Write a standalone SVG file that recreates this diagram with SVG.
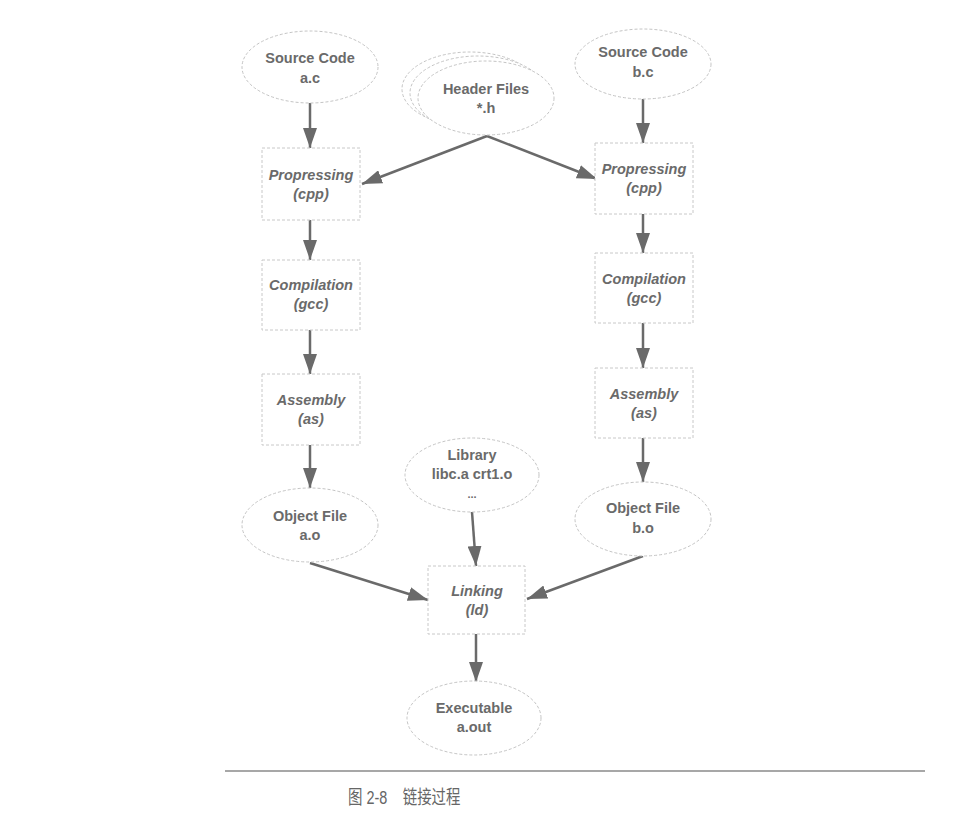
<svg xmlns="http://www.w3.org/2000/svg" width="956" height="827" viewBox="0 0 956 827">
<defs>
<marker id="ah" markerUnits="userSpaceOnUse" markerWidth="20" markerHeight="14" viewBox="0 0 20 14" refX="20" refY="7" orient="auto">
<path d="M0,0 L20,7 L0,14 Z" fill="#6a6a6a"/>
</marker>
</defs>
<style>
.el{fill:#fff;stroke:#c4c4c4;stroke-width:1;stroke-dasharray:3 2}
.bx{fill:#fff;stroke:#c8c8c8;stroke-width:1;stroke-dasharray:3 2}
.t{font-family:"Liberation Sans",Arial,sans-serif;font-size:14.5px;font-weight:bold;fill:#6a6a6a;text-anchor:middle}
.ti{font-style:italic}
.c{stroke:#6a6a6a;stroke-width:2.5;fill:none;marker-end:url(#ah)}
.cap{font-family:"Liberation Sans","Noto Sans CJK SC",sans-serif;font-size:19px;fill:#666}
</style>
<rect width="956" height="827" fill="#fff"/>
<g id="connectors">
<line class="c" x1="310" y1="103" x2="310" y2="148"/>
<line class="c" x1="310" y1="220" x2="310" y2="260"/>
<line class="c" x1="310" y1="330" x2="310" y2="374"/>
<line class="c" x1="310" y1="445" x2="310" y2="488"/>
<line class="c" x1="643" y1="98" x2="643" y2="143"/>
<line class="c" x1="643" y1="214" x2="643" y2="253"/>
<line class="c" x1="643" y1="323" x2="643" y2="368"/>
<line class="c" x1="643" y1="438" x2="643" y2="482"/>
<line class="c" x1="487" y1="136" x2="362" y2="184"/>
<line class="c" x1="487" y1="136" x2="597" y2="179"/>
<line class="c" x1="472" y1="512" x2="476" y2="566"/>
<line class="c" x1="310" y1="563" x2="428" y2="600"/>
<line class="c" x1="643" y1="556" x2="527" y2="599"/>
<line class="c" x1="476" y1="634" x2="476" y2="682"/>
</g>
<g id="src-a">
<ellipse class="el" cx="310" cy="67" rx="68" ry="36"/>
<text class="t" x="310" y="63">Source Code</text>
<text class="t" x="310" y="83">a.c</text>
</g>
<g id="headers">
<ellipse class="el" cx="470" cy="89" rx="68" ry="37"/>
<ellipse class="el" cx="478" cy="93" rx="68" ry="37"/>
<ellipse class="el" cx="486" cy="98" rx="68" ry="37"/>
<text class="t" x="486" y="94">Header Files</text>
<text class="t" x="486" y="113">*.h</text>
</g>
<g id="src-b">
<ellipse class="el" cx="643" cy="64" rx="68" ry="35"/>
<text class="t" x="643" y="57">Source Code</text>
<text class="t" x="643" y="77">b.c</text>
</g>
<g id="cpp-a">
<rect class="bx" x="262" y="148" width="98" height="72"/>
<text class="t ti" x="311" y="180">Propressing</text>
<text class="t ti" x="311" y="199">(cpp)</text>
</g>
<g id="gcc-a">
<rect class="bx" x="262" y="260" width="98" height="70"/>
<text class="t ti" x="311" y="290">Compilation</text>
<text class="t ti" x="311" y="309">(gcc)</text>
</g>
<g id="as-a">
<rect class="bx" x="262" y="374" width="98" height="71"/>
<text class="t ti" x="311" y="405">Assembly</text>
<text class="t ti" x="311" y="424">(as)</text>
</g>
<g id="obj-a">
<ellipse class="el" cx="310" cy="525" rx="68" ry="37"/>
<text class="t" x="310" y="521">Object File</text>
<text class="t" x="310" y="540">a.o</text>
</g>
<g id="cpp-b">
<rect class="bx" x="595" y="143" width="98" height="71"/>
<text class="t ti" x="644" y="174">Propressing</text>
<text class="t ti" x="644" y="193">(cpp)</text>
</g>
<g id="gcc-b">
<rect class="bx" x="595" y="253" width="98" height="70"/>
<text class="t ti" x="644" y="284">Compilation</text>
<text class="t ti" x="644" y="303">(gcc)</text>
</g>
<g id="as-b">
<rect class="bx" x="595" y="368" width="98" height="70"/>
<text class="t ti" x="644" y="399">Assembly</text>
<text class="t ti" x="644" y="418">(as)</text>
</g>
<g id="obj-b">
<ellipse class="el" cx="643" cy="519" rx="68" ry="37"/>
<text class="t" x="643" y="513">Object File</text>
<text class="t" x="643" y="533">b.o</text>
</g>
<g id="library">
<ellipse class="el" cx="472" cy="475" rx="67" ry="37"/>
<text class="t" x="472" y="460">Library</text>
<text class="t" x="472" y="479">libc.a crt1.o</text>
<text class="t" x="472" y="498" style="font-size:11px">...</text>
</g>
<g id="linking">
<rect class="bx" x="428" y="566" width="97" height="68"/>
<text class="t ti" x="477" y="596">Linking</text>
<text class="t ti" x="477" y="615">(ld)</text>
</g>
<g id="exec">
<ellipse class="el" cx="474" cy="718" rx="67" ry="37"/>
<text class="t" x="474" y="713">Executable</text>
<text class="t" x="474" y="732">a.out</text>
</g>
<line x1="225" y1="771" x2="925" y2="771" stroke="#8a8a8a" stroke-width="1.5"/>
<g transform="translate(348,804) scale(0.76,1)">
<text class="cap" x="0" y="0">图 2-8<tspan x="72">链接过程</tspan></text>
</g>
</svg>
